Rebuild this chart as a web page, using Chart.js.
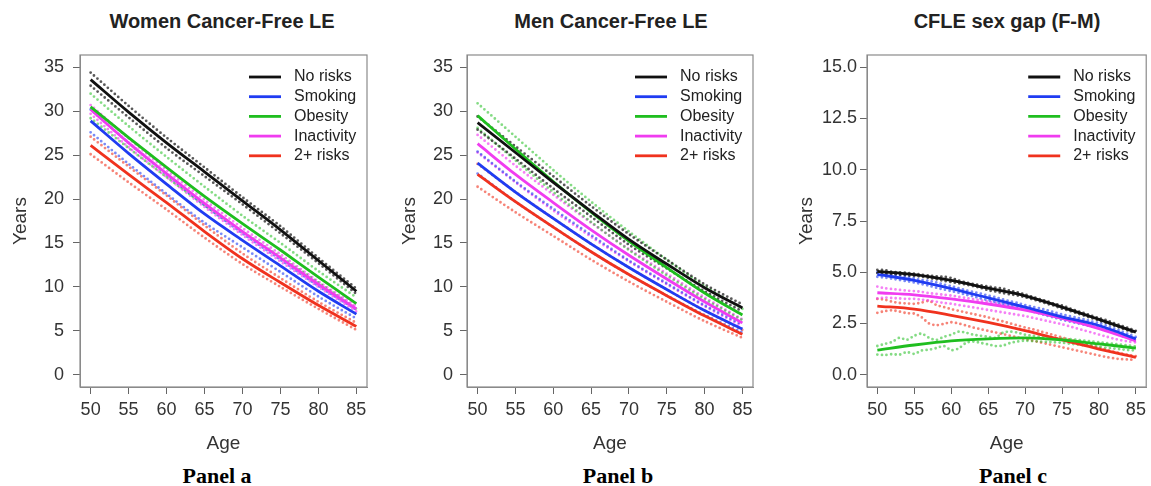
<!DOCTYPE html>
<html>
<head>
<meta charset="utf-8">
<script src="https://cdn.jsdelivr.net/npm/chart.js@4.4.1/dist/chart.umd.min.js"></script>
<style>
  body { margin: 0; background: #fff; width: 1151px; height: 486px; position: relative; overflow: hidden; font-family: "Liberation Sans", Arial, sans-serif; }
  canvas { position: absolute; top: 0; }
  .title { position: absolute; top: 10px; width: 320px; text-align: center; font-weight: bold; font-size: 20px; color: #222; }
  .tag { position: absolute; top: 463px; width: 200px; text-align: center; font-family: "Liberation Serif", "Times New Roman", serif; font-weight: bold; font-size: 22px; color: #000; }
</style>
</head>
<body>
<div class="title" style="left:62px">Women Cancer-Free LE</div>
<div class="title" style="left:451px">Men Cancer-Free LE</div>
<div class="title" style="left:847px">CFLE sex gap (F-M)</div>

<canvas id="panelA" width="384" height="460" style="left:0"></canvas>
<canvas id="panelB" width="384" height="460" style="left:384px"></canvas>
<canvas id="panelC" width="383" height="460" style="left:768px"></canvas>

<div class="tag" style="left:117px">Panel a</div>
<div class="tag" style="left:518px">Panel b</div>
<div class="tag" style="left:913px">Panel c</div>

<script>
// categories + ticks
const ages5 = [50, 55, 60, 65, 70, 75, 80, 85];
const ages1 = [50, 51, 52, 53, 54, 55, 56, 57, 58, 59, 60, 61, 62, 63, 64, 65, 66, 67,
  68, 69, 70, 71, 72, 73, 74, 75, 76, 77, 78, 79, 80, 81, 82, 83, 84, 85];
const xTicks = [50, 55, 60, 65, 70, 75, 80, 85];
const yTicksLE = [0, 5, 10, 15, 20, 25, 30, 35];
const yTicksGap = [0, 2.5, 5, 7.5, 10, 12.5, 15];

const seriesNames = ['No risks', 'Smoking', 'Obesity', 'Inactivity', '2+ risks'];
const seriesColors = ['#111111', '#1f3cf2', '#1fbe1f', '#f03cf0', '#f0321e'];
const bandColors = ['rgba(17,17,17,0.7)', 'rgba(31,60,242,0.6)', 'rgba(31,190,31,0.55)', 'rgba(240,60,240,0.65)', 'rgba(240,50,30,0.6)'];

// Panel a - women
const womenNoRisks = [33.6, 29.9, 26.4, 23.1, 19.8, 16.5, 13.0, 9.5];
const womenNoRisksHi = [34.4, 30.6, 27.0, 23.6, 20.2, 16.9, 13.3, 9.8];
const womenNoRisksLo = [32.9, 29.3, 25.8, 22.6, 19.4, 16.1, 12.7, 9.2];
const womenSmoking = [28.9, 25.2, 21.7, 18.3, 15.3, 12.4, 9.5, 6.9];
const womenSmokingHi = [30.2, 26.4, 22.8, 19.3, 16.1, 13.1, 10.1, 7.4];
const womenSmokingLo = [27.6, 24.0, 20.6, 17.3, 14.5, 11.7, 8.9, 6.4];
const womenObesity = [30.5, 27.0, 23.6, 20.3, 17.2, 14.2, 11.1, 8.1];
const womenObesityHi = [32.0, 28.3, 24.8, 21.4, 18.1, 15.0, 11.8, 8.8];
const womenObesityLo = [29.2, 25.8, 22.5, 19.3, 16.3, 13.4, 10.5, 7.5];
const womenInactive = [30.2, 26.4, 22.9, 19.5, 16.3, 13.3, 10.3, 7.5];
const womenInactiveHi = [30.7, 26.9, 23.3, 19.9, 16.7, 13.7, 10.6, 7.8];
const womenInactiveLo = [29.7, 25.9, 22.5, 19.1, 15.9, 12.9, 10.0, 7.2];
const womenMulti = [26.1, 22.8, 19.6, 16.3, 13.2, 10.5, 7.9, 5.5];
const womenMultiHi = [27.1, 23.7, 20.4, 17.0, 13.8, 11.0, 8.3, 5.9];
const womenMultiLo = [25.1, 21.9, 18.8, 15.6, 12.6, 10.0, 7.5, 5.1];

// Panel b - men
const menNoRisks = [28.7, 25.3, 21.9, 18.6, 15.4, 12.6, 9.9, 7.6];
const menNoRisksHi = [29.4, 26.0, 22.6, 19.2, 16.0, 13.1, 10.3, 8.0];
const menNoRisksLo = [27.9, 24.6, 21.2, 18.0, 14.8, 12.1, 9.5, 7.2];
const menSmoking = [24.1, 20.8, 17.8, 14.9, 12.2, 9.7, 7.3, 5.2];
const menSmokingHi = [25.4, 22.0, 18.9, 15.9, 13.0, 10.4, 7.9, 5.7];
const menSmokingLo = [22.9, 19.7, 16.8, 14.0, 11.4, 9.0, 6.8, 4.8];
const menObesity = [29.5, 25.7, 22.0, 18.5, 15.2, 12.2, 9.3, 6.8];
const menObesityHi = [30.9, 27.1, 23.3, 19.7, 16.3, 13.1, 10.1, 7.5];
const menObesityLo = [28.1, 24.4, 20.8, 17.4, 14.2, 11.3, 8.6, 6.2];
const menInactive = [26.3, 22.8, 19.6, 16.5, 13.6, 10.9, 8.3, 5.9];
const menInactiveHi = [27.3, 23.8, 20.5, 17.3, 14.3, 11.5, 8.8, 6.3];
const menInactiveLo = [25.3, 21.9, 18.7, 15.7, 12.9, 10.3, 7.8, 5.5];
const menMulti = [22.8, 19.7, 16.8, 14.0, 11.4, 9.0, 6.7, 4.6];
const menMultiHi = [24.0, 20.8, 17.8, 14.9, 12.2, 9.7, 7.3, 5.1];
const menMultiLo = [21.4, 18.5, 15.8, 13.1, 10.6, 8.3, 6.1, 4.2];

// Panel c - sex gap (smooth lines every 5 years, raw bands every year)
const gapNoRisks = [5.04, 4.88, 4.60, 4.22, 3.85, 3.30, 2.70, 2.08];
const gapNoRisksHi = [5.12, 5.10, 5.02, 5.00, 4.97, 4.93, 4.88, 4.84, 4.80, 4.78, 4.72, 4.60, 4.50, 4.42, 4.36, 4.30, 4.25, 4.20,
  4.10, 4.02, 3.92, 3.80, 3.68, 3.58, 3.46, 3.38, 3.24, 3.12, 3.00, 2.88, 2.76, 2.66, 2.52, 2.40, 2.27, 2.14];
const gapNoRisksLo = [4.96, 4.92, 4.90, 4.88, 4.85, 4.82, 4.78, 4.72, 4.66, 4.58, 4.52, 4.46, 4.40, 4.32, 4.24, 4.12, 4.06, 3.98,
  3.92, 3.86, 3.78, 3.68, 3.58, 3.46, 3.36, 3.22, 3.12, 3.00, 2.88, 2.76, 2.64, 2.52, 2.40, 2.27, 2.14, 2.02];
const gapSmoking = [4.90, 4.60, 4.20, 3.75, 3.30, 2.82, 2.40, 1.75];
const gapSmokingHi = [5.00, 4.95, 4.90, 4.85, 4.78, 4.70, 4.62, 4.58, 4.50, 4.40, 4.32, 4.22, 4.12, 4.04, 3.96, 3.86, 3.78, 3.68,
  3.58, 3.50, 3.40, 3.32, 3.24, 3.14, 3.04, 2.94, 2.86, 2.78, 2.70, 2.60, 2.52, 2.40, 2.26, 2.12, 1.98, 1.84];
const gapSmokingLo = [4.78, 4.74, 4.68, 4.62, 4.56, 4.50, 4.42, 4.34, 4.24, 4.16, 4.08, 4.00, 3.90, 3.82, 3.72, 3.64, 3.55, 3.46,
  3.38, 3.28, 3.18, 3.08, 2.98, 2.88, 2.78, 2.68, 2.60, 2.52, 2.44, 2.36, 2.28, 2.16, 2.04, 1.90, 1.78, 1.66];
const gapObesity = [1.20, 1.45, 1.65, 1.75, 1.80, 1.70, 1.50, 1.30];
const gapObesityHi = [1.40, 1.50, 1.60, 1.80, 1.70, 1.90, 2.00, 1.80, 1.70, 1.85, 1.95, 2.10, 2.05, 1.95, 1.90, 1.85, 1.80, 2.05,
  2.10, 2.05, 1.95, 1.90, 1.85, 1.80, 1.78, 1.76, 1.74, 1.70, 1.66, 1.62, 1.58, 1.54, 1.50, 1.46, 1.42, 1.38];
const gapObesityLo = [0.98, 0.96, 1.00, 0.98, 1.10, 1.02, 1.18, 1.22, 1.30, 1.40, 1.20, 1.28, 1.55, 1.62, 1.55, 1.48, 1.40, 1.42,
  1.55, 1.62, 1.66, 1.64, 1.62, 1.60, 1.58, 1.56, 1.52, 1.48, 1.44, 1.40, 1.36, 1.32, 1.28, 1.24, 1.20, 1.18];
const gapInactive = [4.00, 3.90, 3.70, 3.45, 3.15, 2.75, 2.25, 1.65];
const gapInactiveHi = [4.30, 4.22, 4.18, 4.14, 4.10, 4.08, 4.04, 3.98, 3.94, 3.90, 3.86, 3.80, 3.74, 3.68, 3.62, 3.56, 3.50, 3.44,
  3.38, 3.30, 3.22, 3.14, 3.06, 2.98, 2.90, 2.82, 2.72, 2.62, 2.52, 2.42, 2.32, 2.20, 2.08, 1.96, 1.84, 1.72];
const gapInactiveLo = [3.72, 3.76, 3.74, 3.72, 3.70, 3.70, 3.66, 3.62, 3.56, 3.50, 3.46, 3.40, 3.34, 3.28, 3.22, 3.16, 3.10, 3.04,
  2.98, 2.92, 2.86, 2.78, 2.70, 2.62, 2.54, 2.46, 2.36, 2.26, 2.16, 2.06, 1.96, 1.86, 1.76, 1.68, 1.62, 1.58];
const gapMulti = [3.35, 3.20, 2.90, 2.55, 2.15, 1.70, 1.25, 0.85];
const gapMultiHi = [3.70, 3.66, 3.56, 3.50, 3.48, 3.46, 3.52, 3.60, 3.40, 3.30, 3.20, 3.12, 3.04, 2.96, 2.88, 2.80, 2.70, 2.60,
  2.50, 2.40, 2.30, 2.22, 2.12, 2.02, 1.92, 1.82, 1.72, 1.62, 1.52, 1.42, 1.32, 1.22, 1.12, 1.04, 0.96, 0.90];
const gapMultiLo = [3.02, 3.10, 3.14, 3.08, 3.00, 2.98, 2.80, 2.50, 2.42, 2.48, 2.56, 2.50, 2.40, 2.30, 2.22, 2.14, 2.06, 1.98,
  1.90, 1.82, 1.74, 1.66, 1.58, 1.50, 1.42, 1.34, 1.26, 1.18, 1.10, 1.02, 0.94, 0.86, 0.80, 0.76, 0.74, 0.72];

const pts = (xs, ys) => xs.map((x, i) => ({ x: x, y: ys[i] }));

// main lines first (drawn on top), then dotted bands
function buildSets(lineXs, mains, bandXs, his, los) {
  const sets = [];
  mains.forEach((m, i) => {
    sets.push({
      label: seriesNames[i], data: pts(lineXs, m), borderColor: seriesColors[i],
      borderWidth: 2.8, pointRadius: 0, cubicInterpolationMode: 'monotone', isMain: true
    });
  });
  mains.forEach((m, i) => {
    [his[i], los[i]].forEach(b => {
      sets.push({
        label: seriesNames[i] + ' CI', data: pts(bandXs, b), borderColor: bandColors[i],
        borderWidth: 2.8, borderDash: [0, 4.6], borderCapStyle: 'round', pointRadius: 0, tension: 0.3
      });
    });
  });
  return sets;
}

// gray frame around the plot like R's box()
const boxPlugin = {
  id: 'box',
  afterDraw(chart) {
    const a = chart.chartArea, ctx = chart.ctx;
    ctx.save();
    ctx.strokeStyle = '#8a8a8a';
    ctx.lineWidth = 1.2;
    ctx.strokeRect(a.left, a.top, a.right - a.left, a.bottom - a.top);
    ctx.restore();
  }
};

// legend inside the top-right corner
const keyPlugin = {
  id: 'key',
  afterDraw(chart) {
    const a = chart.chartArea, ctx = chart.ctx;
    ctx.save();
    ctx.font = '16px "Liberation Sans", Arial, sans-serif';
    ctx.textBaseline = 'middle';
    ctx.fillStyle = '#222';
    chart.data.datasets.filter(d => d.isMain).forEach((d, i) => {
      const y = a.top + 22 + i * 19.7;
      ctx.strokeStyle = d.borderColor;
      ctx.lineWidth = 2.8;
      ctx.beginPath();
      ctx.moveTo(a.right - 118, y);
      ctx.lineTo(a.right - 86, y);
      ctx.stroke();
      ctx.fillText(d.label, a.right - 73, y);
    });
    ctx.restore();
  }
};

function makePanel(id, sets, opt) {
  const tickFont = { family: '"Liberation Sans", Arial, sans-serif', size: 18 };
  const titleFont = { family: '"Liberation Sans", Arial, sans-serif', size: 19 };
  return new Chart(document.getElementById(id), {
    type: 'line',
    data: { datasets: sets },
    options: {
      responsive: false,
      animation: false,
      devicePixelRatio: 1,
      layout: { padding: { top: 55, right: opt.padRight, left: 0, bottom: 0 } },
      plugins: { legend: { display: false }, tooltip: { enabled: false } },
      scales: {
        x: {
          type: 'linear', min: 48.6, max: 86.4,
          afterBuildTicks: s => { s.ticks = xTicks.map(v => ({ value: v })); },
          afterFit: s => { s.height = 73; },
          grid: { drawOnChartArea: false, drawTicks: true, tickLength: 7, tickColor: '#666' },
          border: { display: true, color: '#8a8a8a' },
          ticks: { font: tickFont, color: '#333', padding: 5, maxRotation: 0 },
          title: { display: true, text: 'Age', font: titleFont, color: '#333', padding: { top: 0, bottom: 5 } }
        },
        y: {
          min: opt.yMin, max: opt.yMax,
          afterBuildTicks: s => { s.ticks = opt.yTicks.map(v => ({ value: v })); },
          afterFit: s => { s.width = opt.yWidth; },
          grid: { drawOnChartArea: false, drawTicks: true, tickLength: 7, tickColor: '#666' },
          border: { display: true, color: '#8a8a8a' },
          ticks: { font: tickFont, color: '#333', padding: opt.tickPad, callback: opt.fmt },
          title: { display: true, text: 'Years', font: titleFont, color: '#333', padding: { top: opt.titlePad, bottom: 0 } }
        }
      }
    },
    plugins: [boxPlugin, keyPlugin]
  });
}

makePanel('panelA',
  buildSets(ages5,
    [womenNoRisks, womenSmoking, womenObesity, womenInactive, womenMulti], ages5,
    [womenNoRisksHi, womenSmokingHi, womenObesityHi, womenInactiveHi, womenMultiHi],
    [womenNoRisksLo, womenSmokingLo, womenObesityLo, womenInactiveLo, womenMultiLo]),
  { padRight: 17, yWidth: 80, tickPad: 9, titlePad: 9, yMin: -1.4, yMax: 36.4, yTicks: yTicksLE, fmt: v => v });

makePanel('panelB',
  buildSets(ages5,
    [menNoRisks, menSmoking, menObesity, menInactive, menMulti], ages5,
    [menNoRisksHi, menSmokingHi, menObesityHi, menInactiveHi, menMultiHi],
    [menNoRisksLo, menSmokingLo, menObesityLo, menInactiveLo, menMultiLo]),
  { padRight: 15, yWidth: 83, tickPad: 7, titlePad: 14, yMin: -1.4, yMax: 36.4, yTicks: yTicksLE, fmt: v => v });

makePanel('panelC',
  buildSets(ages5,
    [gapNoRisks, gapSmoking, gapObesity, gapInactive, gapMulti], ages1,
    [gapNoRisksHi, gapSmokingHi, gapObesityHi, gapInactiveHi, gapMultiHi],
    [gapNoRisksLo, gapSmokingLo, gapObesityLo, gapInactiveLo, gapMultiLo]),
  { padRight: 3, yWidth: 99, tickPad: 3, titlePad: 27, yMin: -0.6, yMax: 15.6, yTicks: yTicksGap, fmt: v => v.toFixed(1) });
</script>
</body>
</html>
